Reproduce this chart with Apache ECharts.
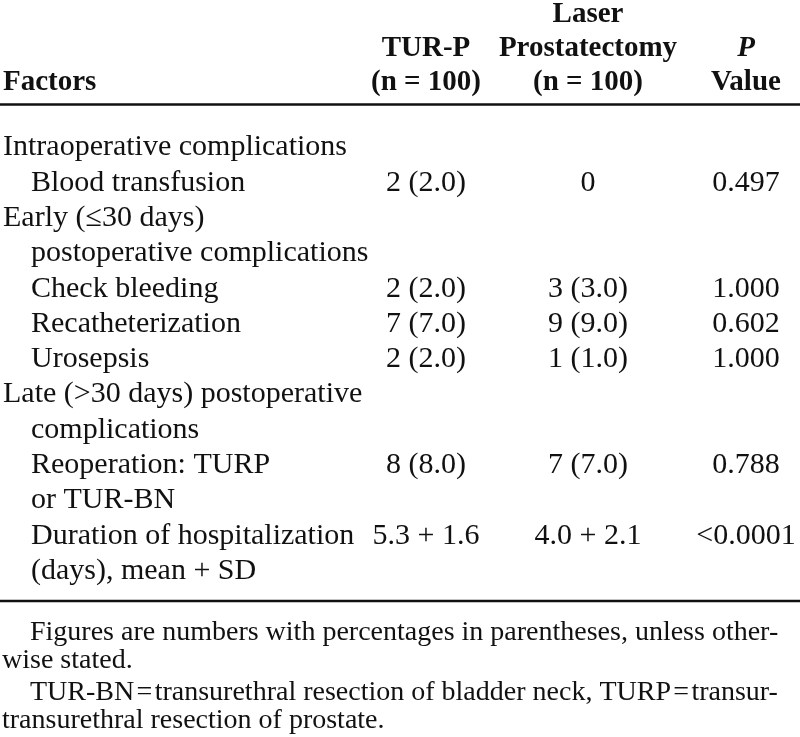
<!DOCTYPE html>
<html>
<head>
<meta charset="utf-8">
<script src="https://cdn.jsdelivr.net/npm/echarts@6/dist/echarts.min.js"></script>
<style>
  html, body { margin: 0; background: #fff; }
  #chart { width: 800px; height: 737px; }
</style>
</head>
<body>
<div id="chart"></div>
<script>
// table content
const factors = [
  'Intraoperative complications',
  'Blood transfusion',
  'Early (\u226430 days)',
  'postoperative complications',
  'Check bleeding',
  'Recatheterization',
  'Urosepsis',
  'Late (>30 days) postoperative',
  'complications',
  'Reoperation: TURP',
  'or TUR-BN',
  'Duration of hospitalization',
  '(days), mean + SD'
];
const levels = [0, 1, 0, 1, 1, 1, 1, 0, 1, 1, 1, 1, 1];
const turp = ['', '2 (2.0)', '', '', '2 (2.0)', '7 (7.0)', '2 (2.0)', '', '', '8 (8.0)', '', '5.3 + 1.6', ''];
const laser = ['', '0', '', '', '3 (3.0)', '9 (9.0)', '1 (1.0)', '', '', '7 (7.0)', '', '4.0 + 2.1', ''];
const pValues = ['', '0.497', '', '', '1.000', '0.602', '1.000', '', '', '0.788', '', '<0.0001', ''];

const headFactors = ['', '', 'Factors'];
const headTurp = ['', 'TUR-P', '(n = 100)'];
const headLaser = ['Laser', 'Prostatectomy', '(n = 100)'];
const headP = ['', 'P', 'Value'];

const notes = [
  'Figures are numbers with percentages in parentheses, unless other-',
  'wise stated.',
  'TUR-BN\u200a=\u200atransurethral resection of bladder neck, TURP\u200a=\u200atransur-',
  'transurethral resection of prostate.'
];

// layout (axis units: x in px, y in rows)
const row0 = 147.5;
const rowStep = 35.3;
const colX = [3, 426, 588, 746];
const colAlign = ['left', 'center', 'center', 'center'];
const indentPx = 28;
const headRows = [-3.77, -2.80, -1.84];
const ruleRows = [-1.22, 12.85];
const serif = '"Liberation Serif", "Times New Roman", serif';

const columns = [factors, turp, laser, pValues];
const headCols = [headFactors, headTurp, headLaser, headP];

const bodyCells = [];
columns.forEach((col, c) => {
  col.forEach((txt, r) => {
    if (txt) bodyCells.push({ value: [c, r], text: txt, level: c === 0 ? levels[r] : 0 });
  });
});
const headCells = [];
headCols.forEach((col, c) => {
  col.forEach((txt, i) => {
    if (txt) headCells.push({ value: [c, headRows[i]], text: txt });
  });
});

const chart = echarts.init(document.getElementById('chart'));

function cellRenderer(cells, bold) {
  return function (params, api) {
    const cell = cells[params.dataIndex];
    const c = api.value(0);
    const x = colX[c] + (cell.level ? indentPx : 0);
    const pt = api.coord([x, api.value(1)]);
    const italic = bold && cell.text === 'P';
    return {
      type: 'text',
      x: pt[0],
      y: pt[1],
      style: {
        text: cell.text,
        fill: '#111',
        font: (italic ? 'italic ' : '') + (bold ? 'bold 29px ' : '30px ') + serif,
        align: colAlign[c],
        verticalAlign: 'middle'
      }
    };
  };
}

chart.setOption({
  animation: false,
  grid: { left: 0, right: 0, top: 0, bottom: 0 },
  xAxis: { type: 'value', min: 0, max: 800, show: false },
  yAxis: { type: 'value', inverse: true, min: -row0 / rowStep, max: (737 - row0) / rowStep, show: false },
  series: [
    {
      type: 'custom',
      renderItem: cellRenderer(bodyCells, false),
      data: bodyCells.map(d => d.value),
      silent: true
    },
    {
      type: 'custom',
      renderItem: cellRenderer(headCells, true),
      data: headCells.map(d => d.value),
      silent: true
    },
    {
      type: 'custom',
      renderItem: function (params, api) {
        const a = api.coord([0, api.value(0)]);
        const b = api.coord([800, api.value(0)]);
        return {
          type: 'line',
          shape: { x1: a[0], y1: a[1], x2: b[0], y2: b[1] },
          style: { stroke: '#111', lineWidth: 2.5 }
        };
      },
      data: ruleRows.map(r => [r]),
      silent: true
    }
  ],
  graphic: notes.map((t, i) => ({
    type: 'text',
    left: i % 2 === 0 ? 30 : 2,
    top: [619, 647, 679, 707][i],
    style: { text: t, font: '28px ' + serif, fill: '#111' }
  }))
});
</script>
</body>
</html>
